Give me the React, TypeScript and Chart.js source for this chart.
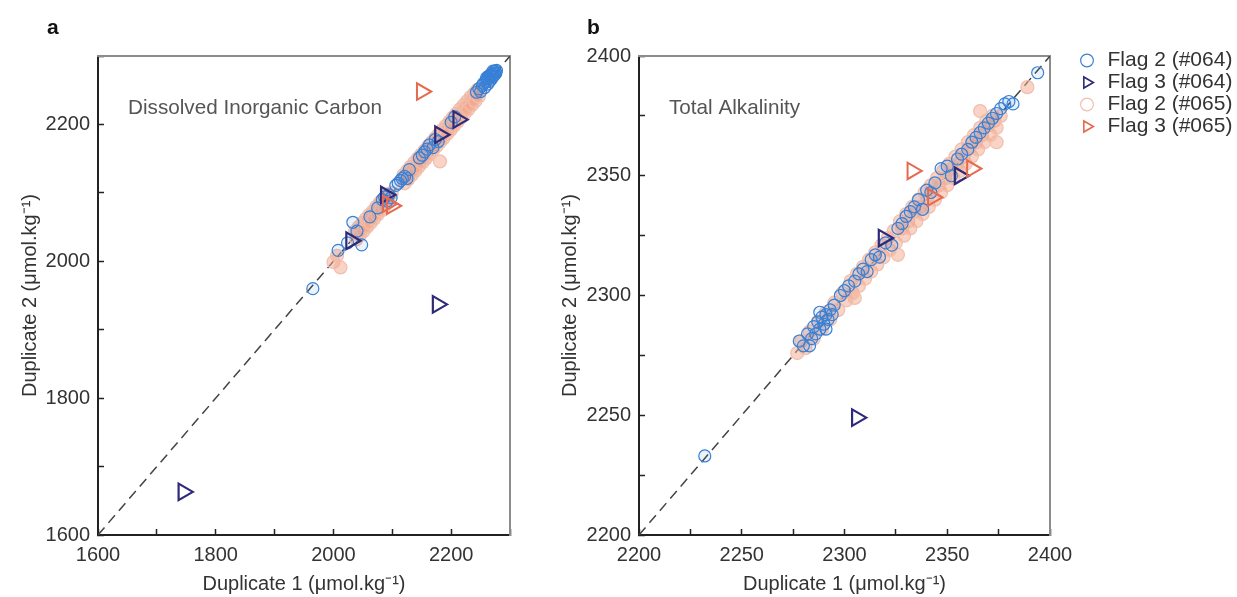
import React, { useEffect, useRef } from 'react';
import { Chart, registerables } from 'chart.js';

Chart.register(...registerables);

const FONT = "'Liberation Sans', Arial, Helvetica, sans-serif";

// ---------- Panel a: Dissolved Inorganic Carbon ----------
const DIC_RANGE = [1600, 2300];
const DIC_TICK_STEP = 100;
const DIC_LABEL_STEP = 200;

const DIC_F2_064: number[][] = [
  [1965, 1960], [2008, 2016], [2033, 2057], [2048, 2024], [2024, 2027], [2040, 2044],
  [2062, 2065], [2075, 2078], [2083, 2090], [2087, 2094], [2091, 2088], [2094, 2097], [2098, 2093],
  [2106, 2111], [2110, 2114], [2114, 2118], [2117, 2121], [2121, 2124], [2125, 2121], [2129, 2134],
  [2146, 2151], [2151, 2155], [2155, 2160], [2159, 2164], [2163, 2170], [2169, 2166], [2173, 2178], [2178, 2175],
  [2200, 2203], [2206, 2211],
  [2243, 2247], [2247, 2252], [2250, 2248], [2253, 2257], [2255, 2260], [2257, 2254], [2259, 2263],
  [2261, 2266], [2262, 2259], [2264, 2268], [2265, 2263], [2267, 2271], [2268, 2266], [2269, 2273],
  [2270, 2269], [2271, 2275], [2272, 2271], [2273, 2277], [2274, 2273], [2275, 2278], [2271, 2278],
  [2276, 2275], [2266, 2272], [2260, 2268], [2277, 2279], [2263, 2270],
];
const DIC_F3_064: number[][] = [
  [1745, 1663], [2177, 1937], [2030, 2030], [2089, 2097], [2181, 2185], [2212, 2207],
];
const DIC_F2_065: number[][] = [
  [2000, 1999], [2012, 1991], [2006, 2008], [2181, 2146],
  [2037, 2044], [2043, 2050], [2049, 2056], [2055, 2062], [2061, 2068], [2067, 2073], [2073, 2080],
  [2079, 2086], [2085, 2091], [2091, 2098],
  [2040, 2040], [2046, 2047], [2052, 2052], [2058, 2059], [2064, 2064], [2070, 2071], [2076, 2076],
  [2082, 2083], [2088, 2088], [2094, 2095], [2099, 2100],
  [2039, 2032], [2045, 2038], [2051, 2044], [2057, 2050], [2063, 2056], [2069, 2062], [2075, 2068],
  [2081, 2074], [2087, 2080], [2093, 2086],
  [2119, 2126], [2125, 2132], [2131, 2138], [2137, 2144], [2143, 2150], [2149, 2156], [2155, 2162],
  [2161, 2168], [2167, 2174], [2173, 2180], [2179, 2186], [2185, 2192], [2191, 2198], [2197, 2204],
  [2203, 2210], [2209, 2216], [2215, 2222], [2221, 2228], [2227, 2234], [2233, 2240], [2239, 2245],
  [2245, 2251],
  [2122, 2122], [2128, 2129], [2134, 2134], [2140, 2141], [2146, 2146], [2152, 2153], [2158, 2158],
  [2164, 2165], [2170, 2170], [2176, 2177], [2182, 2182], [2188, 2189], [2194, 2194], [2200, 2201],
  [2206, 2206], [2212, 2213], [2218, 2218], [2224, 2225], [2230, 2230], [2236, 2237], [2242, 2242],
  [2248, 2249],
  [2121, 2114], [2127, 2120], [2133, 2126], [2139, 2132], [2145, 2138], [2151, 2144], [2157, 2150],
  [2163, 2156], [2169, 2162], [2175, 2168], [2181, 2174], [2187, 2180], [2193, 2186], [2199, 2192],
  [2205, 2198], [2211, 2204], [2217, 2210], [2223, 2216], [2229, 2222], [2235, 2228], [2241, 2234],
  [2247, 2241],
];
const DIC_F3_065: number[][] = [
  [2150, 2248], [2092, 2084], [2099, 2081],
];

// ---------- Panel b: Total Alkalinity ----------
const TA_RANGE = [2200, 2400];
const TA_TICK_STEP = 25;
const TA_LABEL_STEP = 50;

const TA_F2_064: number[][] = [
  [2232, 2233],
  [2278, 2281], [2280, 2279], [2282, 2284], [2284, 2282], [2285, 2287], [2286, 2284], [2287, 2289],
  [2288, 2286], [2289, 2291], [2290, 2288], [2291, 2292], [2292, 2290], [2293, 2294], [2294, 2292],
  [2291, 2286], [2288, 2293], [2295, 2296], [2283, 2279],
  [2298, 2300], [2300, 2302], [2302, 2304], [2305, 2306], [2307, 2309], [2309, 2311], [2311, 2310],
  [2313, 2315], [2315, 2317], [2317, 2316], [2320, 2322], [2323, 2321],
  [2326, 2328], [2328, 2330], [2330, 2333], [2332, 2335], [2334, 2337], [2336, 2340], [2338, 2336],
  [2340, 2344], [2342, 2343], [2344, 2347], [2347, 2353], [2350, 2354], [2352, 2350], [2355, 2357],
  [2357, 2359], [2360, 2361], [2362, 2364], [2364, 2366], [2366, 2368], [2368, 2370], [2370, 2372],
  [2372, 2374], [2374, 2376], [2376, 2378], [2378, 2380], [2380, 2381], [2382, 2380], [2394, 2393],
];
const TA_F3_064: number[][] = [
  [2306, 2249], [2319, 2324], [2356, 2350],
];
const TA_F2_065: number[][] = [
  [2277, 2276], [2305, 2299], [2326, 2317], [2366, 2377], [2374, 2364], [2389, 2387],
  [2279, 2281], [2281, 2278], [2283, 2285], [2285, 2282], [2287, 2289], [2289, 2286], [2291, 2293],
  [2293, 2290], [2295, 2297], [2297, 2294], [2299, 2301], [2301, 2298],
  [2303, 2306], [2306, 2309], [2309, 2312], [2312, 2315], [2315, 2318], [2318, 2321], [2321, 2324], [2324, 2327],
  [2304, 2301], [2307, 2304], [2310, 2307], [2313, 2310], [2316, 2313], [2319, 2316], [2322, 2319], [2325, 2322],
  [2327, 2331], [2330, 2334], [2333, 2337], [2336, 2340], [2339, 2343], [2342, 2346], [2345, 2349],
  [2348, 2352], [2351, 2355], [2354, 2358], [2357, 2361], [2360, 2364], [2363, 2367], [2366, 2370],
  [2369, 2373], [2372, 2375],
  [2328, 2328], [2331, 2331], [2334, 2335], [2337, 2337], [2340, 2340], [2343, 2344], [2346, 2346],
  [2349, 2349], [2352, 2353], [2355, 2355], [2358, 2358], [2361, 2362], [2364, 2364], [2367, 2367],
  [2370, 2371], [2373, 2373], [2376, 2375],
  [2329, 2325], [2332, 2328], [2335, 2331], [2338, 2334], [2341, 2337], [2344, 2340], [2347, 2343],
  [2350, 2346], [2353, 2349], [2356, 2352], [2359, 2355], [2362, 2358], [2365, 2361], [2368, 2364],
  [2371, 2367], [2374, 2370],
];
const TA_F3_065: number[][] = [
  [2333, 2352], [2343, 2341], [2362, 2353],
];

const LEGEND_LABELS = ['Flag 2 (#064)', 'Flag 3 (#064)', 'Flag 2 (#065)', 'Flag 3 (#065)'];
const X_TITLE = 'Duplicate 1 (\u03bcmol.kg\u207b\u00b9)';
const Y_TITLE = 'Duplicate 2 (\u03bcmol.kg\u207b\u00b9)';

const BLUE = '#3a80d4';
const NAVY = '#2e2a7a';
const PINK = '#f0bfae';
const RED = '#e66a4f';

const pts = (arr: number[][]) => arr.map(([x, y]) => ({ x, y }));

function buildDatasets(f2a: number[][], f3a: number[][], f2b: number[][], f3b: number[][], range: number[]) {
  return [
    {
      type: 'scatter', label: LEGEND_LABELS[0], data: pts(f2a), order: 2,
      pointStyle: 'circle', pointRadius: 6, borderWidth: 1.2,
      borderColor: BLUE, backgroundColor: 'rgba(50,128,225,0.10)',
    },
    {
      type: 'scatter', label: LEGEND_LABELS[1], data: pts(f3a), order: 1,
      pointStyle: 'triangle', pointRotation: 90, pointRadius: 9.5, borderWidth: 2.2,
      borderColor: NAVY, backgroundColor: 'rgba(0,0,0,0)',
    },
    {
      type: 'scatter', label: LEGEND_LABELS[2], data: pts(f2b), order: 3,
      pointStyle: 'circle', pointRadius: 6.5, borderWidth: 1.2,
      borderColor: PINK, backgroundColor: 'rgba(243,168,140,0.50)',
    },
    {
      type: 'scatter', label: LEGEND_LABELS[3], data: pts(f3b), order: 0,
      pointStyle: 'triangle', pointRotation: 90, pointRadius: 9.5, borderWidth: 2,
      borderColor: RED, backgroundColor: 'rgba(0,0,0,0)',
    },
    {
      type: 'line', label: '', data: [{ x: range[0], y: range[0] }, { x: range[1], y: range[1] }],
      order: 10, borderColor: '#444', borderWidth: 1.5, borderDash: [10, 6], pointRadius: 0, fill: false,
    },
  ];
}

function buildScales(range: number[], step: number, labelStep: number, yWidth: number, topH: number, rightW: number) {
  const cb = (v: any) => (Math.round(Number(v)) % labelStep === 0 ? String(v) : '');
  const tickFont = { family: FONT, size: 20 };
  return {
    x: {
      type: 'linear', position: 'bottom', min: range[0], max: range[1],
      ticks: { stepSize: step, autoSkip: false, maxRotation: 0, callback: cb, padding: 14, color: '#333', font: tickFont },
      grid: { drawOnChartArea: false, drawTicks: true, tickLength: -6, tickWidth: 1.5, tickColor: '#222' },
      border: { display: true, color: '#222', width: 2 },
      title: { display: true, text: X_TITLE, color: '#333', font: tickFont, padding: { top: 0, bottom: 1 } },
      afterFit: (s: any) => { s.height = 62; },
    },
    y: {
      type: 'linear', position: 'left', min: range[0], max: range[1],
      ticks: { stepSize: step, autoSkip: false, callback: cb, padding: 14, color: '#333', font: tickFont },
      grid: { drawOnChartArea: false, drawTicks: true, tickLength: -6, tickWidth: 1.5, tickColor: '#222' },
      border: { display: true, color: '#222', width: 2 },
      title: { display: true, text: Y_TITLE, color: '#333', font: tickFont, padding: { top: 0, bottom: 0 } },
      afterFit: (s: any) => { s.width = yWidth; },
    },
    x2: {
      type: 'linear', axis: 'x', position: 'top', min: range[0], max: range[1],
      ticks: { display: false }, grid: { display: false },
      border: { display: true, color: '#8c8c8c', width: 2 },
      afterFit: (s: any) => { s.height = topH; },
    },
    y2: {
      type: 'linear', axis: 'y', position: 'right', min: range[0], max: range[1],
      ticks: { display: false }, grid: { display: false },
      border: { display: true, color: '#8c8c8c', width: 2 },
      afterFit: (s: any) => { s.width = rightW; },
    },
  };
}

function textPlugin(panel: string, title: string) {
  return {
    id: 'panelText',
    afterDraw(chart: any) {
      const ctx = chart.ctx;
      ctx.save();
      ctx.textAlign = 'left';
      ctx.textBaseline = 'middle';
      ctx.fillStyle = '#111';
      ctx.font = `bold 21px ${FONT}`;
      ctx.fillText(panel, 47, 28);
      ctx.fillStyle = '#555';
      ctx.font = `20.7px ${FONT}`;
      ctx.fillText(title, chart.chartArea.left + 30, 108);
      ctx.restore();
    },
  };
}

const legendWidthPlugin = {
  id: 'legendWidth',
  beforeLayout(chart: any) {
    const lg = chart.legend;
    if (lg && !lg.__patched) {
      const orig = lg.fit.bind(lg);
      lg.fit = function () { orig(); this.width = 161; };
      lg.__patched = true;
    }
  },
};

function Panel(props: { which: 'a' | 'b' }) {
  const ref = useRef<HTMLCanvasElement | null>(null);
  const isA = props.which === 'a';
  const width = isA ? 540 : 697;
  useEffect(() => {
    if (!ref.current) return;
    const range = isA ? DIC_RANGE : TA_RANGE;
    const datasets = isA
      ? buildDatasets(DIC_F2_064, DIC_F3_064, DIC_F2_065, DIC_F3_065, range)
      : buildDatasets(TA_F2_064, TA_F3_064, TA_F2_065, TA_F3_065, range);
    const scales = isA
      ? buildScales(range, DIC_TICK_STEP, DIC_LABEL_STEP, 80, 56, 0)
      : buildScales(range, TA_TICK_STEP, TA_LABEL_STEP, 81, 7, 26);
    const chart = new Chart(ref.current, {
      type: 'scatter',
      data: { datasets: datasets as any },
      options: {
        responsive: false,
        maintainAspectRatio: false,
        animation: false,
        events: [],
        layout: { padding: isA ? { left: 18, right: 30, top: 0, bottom: 0 } : { left: 18, right: 0, top: 49, bottom: 0 } },
        scales: scales as any,
        plugins: {
          tooltip: { enabled: false },
          legend: isA
            ? { display: false }
            : {
                display: true,
                position: 'right',
                align: 'start',
                labels: {
                  usePointStyle: true,
                  boxWidth: 20,
                  boxHeight: 9,
                  padding: 1,
                  color: '#333',
                  font: { family: FONT, size: 21 },
                  generateLabels: (c: any) => {
                    const items = (Chart.defaults as any).plugins.legend.labels.generateLabels(c);
                    return items
                      .filter((i: any) => i.text)
                      .sort((a: any, b: any) => a.datasetIndex - b.datasetIndex)
                      .map((i: any) => ({ ...i, fillStyle: 'rgba(0,0,0,0)', lineWidth: Math.min(i.lineWidth, 1.6) }));
                  },
                },
              },
        },
      } as any,
      plugins: [
        textPlugin(props.which, isA ? 'Dissolved Inorganic Carbon' : 'Total Alkalinity'),
        legendWidthPlugin,
      ] as any,
    });
    return () => chart.destroy();
  }, [isA]);
  return (
    <canvas
      ref={ref}
      width={width}
      height={597}
      style={{ position: 'absolute', left: isA ? 0 : 540, top: 0, width, height: 597 }}
    />
  );
}

export default function App() {
  return (
    <div style={{ position: 'fixed', left: 0, top: 0, width: 1237, height: 597, background: '#fff', overflow: 'hidden' }}>
      <Panel which="a" />
      <Panel which="b" />
    </div>
  );
}
